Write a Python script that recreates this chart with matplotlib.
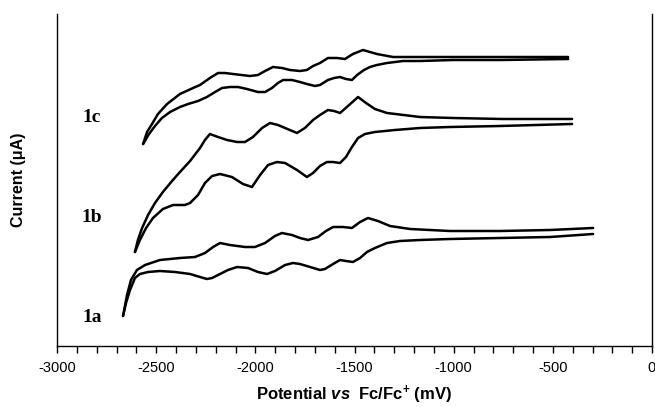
import numpy as np
import matplotlib
matplotlib.use('Agg')
import matplotlib.pyplot as plt

plt.rcParams['font.family'] = 'Liberation Sans'
plt.rcParams['axes.unicode_minus'] = False
plt.rcParams['mathtext.fontset'] = 'custom'
plt.rcParams['mathtext.rm'] = 'Liberation Sans:bold'
plt.rcParams['mathtext.it'] = 'Liberation Sans:italic:bold'
plt.rcParams['mathtext.bf'] = 'Liberation Sans:bold'

# potential in mV, current in arbitrary units (curves are offset vertically)
# 1a
e_1a_up = [-2667, -2647, -2627, -2597, -2556, -2481, -2380, -2304, -2254, -2213, -2178,
           -2128, -2052, -2002, -1951, -1901, -1866, -1815, -1775, -1734, -1684, -1644,
           -1608, -1558, -1513, -1472, -1432, -1382, -1321, -1220, -1019, -766, -514, -297]
i_1a_up = [30, 51, 66, 76, 81, 86, 88, 89, 93, 99, 103,
           101, 99, 99, 103, 110, 113, 111, 108, 106, 109, 115,
           119, 119, 118, 124, 128, 125, 120, 117, 115, 115, 116, 118]
e_1a_down = [-297, -514, -766, -1019, -1170, -1271, -1336, -1397, -1437, -1472, -1508, -1543,
             -1573, -1608, -1649, -1674, -1724, -1775, -1810, -1850, -1901, -1941, -1987,
             -2037, -2092, -2138, -2178, -2218, -2244, -2279, -2329, -2405, -2481, -2541,
             -2582, -2607, -2632, -2652, -2667]
i_1a_down = [112, 109, 108, 107, 106, 105, 103, 98, 94, 88, 84, 85,
             86, 82, 77, 76, 79, 82, 83, 81, 75, 72, 74,
             78, 79, 76, 72, 68, 67, 69, 72, 74, 75, 74,
             72, 68, 56, 43, 30]

# 1b
e_1b_up = [-2607, -2592, -2571, -2541, -2506, -2466, -2420, -2380, -2329, -2279, -2254,
           -2229, -2188, -2143, -2092, -2052, -2012, -1966, -1926, -1886, -1850, -1790,
           -1750, -1709, -1674, -1634, -1603, -1573, -1533, -1482, -1442, -1397, -1336,
           -1170, -1003, -751, -403]
i_1b_up = [94, 106, 118, 131, 143, 154, 165, 174, 185, 198, 206,
           212, 209, 206, 204, 204, 209, 218, 223, 221, 218, 213,
           218, 226, 231, 236, 235, 233, 240, 249, 243, 237, 233,
           229, 228, 227, 227]
e_1b_down = [-403, -766, -1019, -1170, -1296, -1397, -1447, -1482, -1513, -1543, -1573,
             -1608, -1639, -1674, -1709, -1740, -1790, -1850, -1891, -1936, -1976, -2017,
             -2062, -2118, -2178, -2218, -2254, -2289, -2329, -2355, -2415, -2466, -2516,
             -2551, -2582, -2607]
i_1b_down = [222, 220, 219, 218, 216, 214, 212, 208, 199, 189, 183,
             184, 184, 180, 173, 169, 176, 183, 184, 181, 171, 159,
             162, 169, 172, 170, 163, 151, 143, 141, 141, 137, 128,
             118, 106, 94]

# 1c
e_1c_up = [-2566, -2546, -2521, -2491, -2445, -2380, -2314, -2279, -2229, -2188, -2153,
           -2113, -2027, -1987, -1951, -1911, -1866, -1825, -1775, -1740, -1709, -1674,
           -1634, -1588, -1548, -1508, -1457, -1422, -1387, -1306, -1170, -832, -423]
i_1c_up = [202, 214, 222, 232, 242, 252, 258, 261, 268, 273, 273,
           272, 270, 271, 275, 279, 278, 276, 275, 276, 280, 283,
           288, 288, 287, 292, 296, 294, 292, 289, 289, 289, 289]
e_1c_down = [-423, -766, -1003, -1170, -1255, -1336, -1387, -1422, -1452, -1487, -1513,
             -1543, -1573, -1603, -1634, -1674, -1699, -1740, -1775, -1815, -1860, -1886,
             -1916, -1951, -1987, -2042, -2087, -2128, -2168, -2203, -2244, -2289, -2339,
             -2380, -2430, -2471, -2506, -2536, -2566]
i_1c_down = [287, 286, 286, 285, 285, 283, 281, 279, 276, 271, 266,
             267, 269, 268, 266, 261, 260, 262, 264, 266, 266, 263,
             258, 254, 254, 257, 259, 259, 258, 254, 249, 245, 242,
             239, 234, 228, 220, 212, 202]

labels = ['1a', '1b', '1c']
label_y = [28, 129, 228]

fig = plt.figure(figsize=(6.55, 4.07), dpi=100)
ax = fig.add_axes([57 / 655, 61 / 407, 595 / 655, 332 / 407])

for e, i in [(e_1a_up, i_1a_up), (e_1a_down, i_1a_down),
             (e_1b_up, i_1b_up), (e_1b_down, i_1b_down),
             (e_1c_up, i_1c_up), (e_1c_down, i_1c_down)]:
    ax.plot(e, i, color='black', lw=1.8, solid_joinstyle='round', solid_capstyle='round')

# sample labels
for lab, y in zip(labels, label_y):
    ax.text(-2824, y, lab, fontsize=14, fontweight='bold',
            family='Liberation Serif', ha='center', va='center')

ax.set_xlim(-3000, 0)
ax.set_ylim(0, 332)
ax.set_xticks(np.arange(-3000, 1, 500))
ax.set_xticks(np.arange(-3000, 1, 100), minor=True)
ax.tick_params(axis='x', which='both', direction='out', length=5, width=1, labelsize=10.5, pad=6)
ax.set_yticks([])
ax.spines['top'].set_visible(False)
for s in ['left', 'right', 'bottom']:
    ax.spines[s].set_linewidth(1.0)

ax.set_xlabel(r'Potential $\it{vs}$  Fc/Fc$^{\rm{+}}$ (mV)', fontsize=12,
              fontweight='bold', labelpad=6)
ax.set_ylabel('Current (\u03bcA)', fontsize=11.5, fontweight='bold', labelpad=22)

fig.savefig('out.png', dpi=100)
